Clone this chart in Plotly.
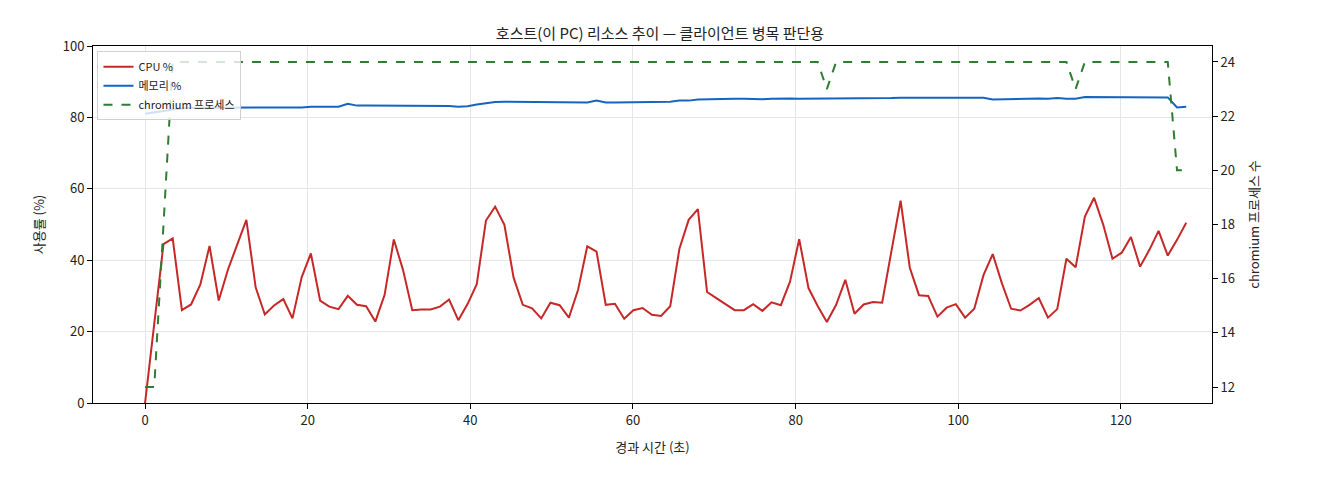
import numpy as np
import plotly.graph_objects as go

# sampling interval ~1.133 s, 114 samples
t = np.round(np.arange(114) * 1.133, 2)

cpu = [0, 22, 44.5, 46.1, 26, 27.6, 33.2, 44, 28.7, 37.4, 44.2, 51.3, 32.4, 24.8, 27.3, 29.1,
       23.7, 35.2, 41.9, 28.7, 27, 26.3, 30, 27.5, 27.1, 22.8, 30.3, 45.8, 37.3, 26, 26.2, 26.2,
       27, 29, 23.2, 27.7, 33.3, 51.1, 55, 49.9,
       35.1, 27.5, 26.5, 23.7, 28.1, 27.4, 23.9, 31.7, 43.9, 42.4, 27.5, 27.8, 23.6, 26, 26.6,
       24.7, 24.4, 27.1, 43.2, 51.3, 54.3, 31.1, 29.4, 27.7, 26, 26, 27.7, 25.8, 28.2, 27.4, 34,
       45.9, 32.2, 27.2, 22.7, 27.5, 34.5, 25, 27.6, 28.3,
       28.1, 42.4, 56.7, 37.9, 30.2, 30.0, 24.2, 26.7, 27.7, 23.9, 26.4, 35.8, 41.7, 33.5, 26.4,
       25.9, 27.5, 29.4, 23.9, 26.3, 40.4, 38, 52.2, 57.5, 49.9, 40.4, 42.1, 46.5, 38.2, 42.9,
       48.2, 41.3, 45.7, 50.5]

mem = ([81, 81.3, 81.8, 82.2, 82.5] + [82.7] * 6 + [82.8] * 7 + [83] * 4 + [83.8]
       + [83.3] * 10 + [83.2, 83, 83.1, 83.6, 84, 84.3] + [84.4] * 8 + [84.2, 84.2, 84.7]
       + [84.2] * 7 + [84.4, 84.7, 84.7, 85] + [85.1, 85.2, 85.3, 85.2, 85.2, 85.1, 85.1, 85.2, 85.3, 85.3]
       + [85.2] * 9 + [85.4, 85.4, 85.5, 85.5, 85.4, 85.5, 85.5, 85.5] + [85.5] * 4 + [85]
       + [85.1, 85.1, 85.2, 85.3, 85.3, 85.2] + [85.4, 85.2, 85.2] + [85.7, 85.7, 85.6]
       + [85.6] * 7 + [82.8, 83])

procs = [12, 12, 18] + [24] * 71 + [23] + [24] * 26 + [23] + [24] * 10 + [20, 20]

fig = go.Figure()
fig.add_trace(go.Scatter(x=t, y=cpu, name="CPU %", mode="lines",
                         line=dict(color="#c62828", width=2)))
fig.add_trace(go.Scatter(x=t, y=mem, name="메모리 %", mode="lines",
                         line=dict(color="#1565c0", width=2)))
fig.add_trace(go.Scatter(x=t, y=procs, name="chromium 프로세스", mode="lines", yaxis="y2",
                         line=dict(color="#2e7d32", width=2, dash="dash")))

font = "Noto Sans CJK KR, sans-serif"
axis_common = dict(showline=True, linecolor="black", linewidth=1, ticks="outside",
                   tickcolor="black", zeroline=False, tickfont=dict(size=13, color="#222"))

# page has an 8px body margin, so the figure is sized to fit inside it
fig.update_layout(
    width=1304, height=464,
    margin=dict(l=85, r=100, t=38, b=69),
    plot_bgcolor="white", paper_bgcolor="white",
    font=dict(family=font, size=13, color="#222"),
    title=dict(text="호스트(이 PC) 리소스 추이 — 클라이언트 병목 판단용", x=0.5, xanchor="center",
               y=0.955, font=dict(size=15)),
    xaxis=dict(range=[-6.4, 131.2], dtick=20, mirror=True, showgrid=True, gridcolor="#e6e6e6",
               title=dict(text="경과 시간 (초)", font=dict(size=13)), **axis_common),
    yaxis=dict(range=[0, 100], dtick=20, showgrid=True, gridcolor="#e6e6e6",
               title=dict(text="사용률 (%)", font=dict(size=13)), **axis_common),
    yaxis2=dict(range=[11.41, 24.59], tickvals=[12, 14, 16, 18, 20, 22, 24], overlaying="y",
                side="right", showgrid=False,
                title=dict(text="chromium 프로세스 수", font=dict(size=13)), **axis_common),
    legend=dict(x=0.004, y=0.985, xanchor="left", yanchor="top", bgcolor="rgba(255,255,255,0.8)",
                bordercolor="#d0d0d0", borderwidth=1, font=dict(size=11)),
)

fig.write_html("out.html")
